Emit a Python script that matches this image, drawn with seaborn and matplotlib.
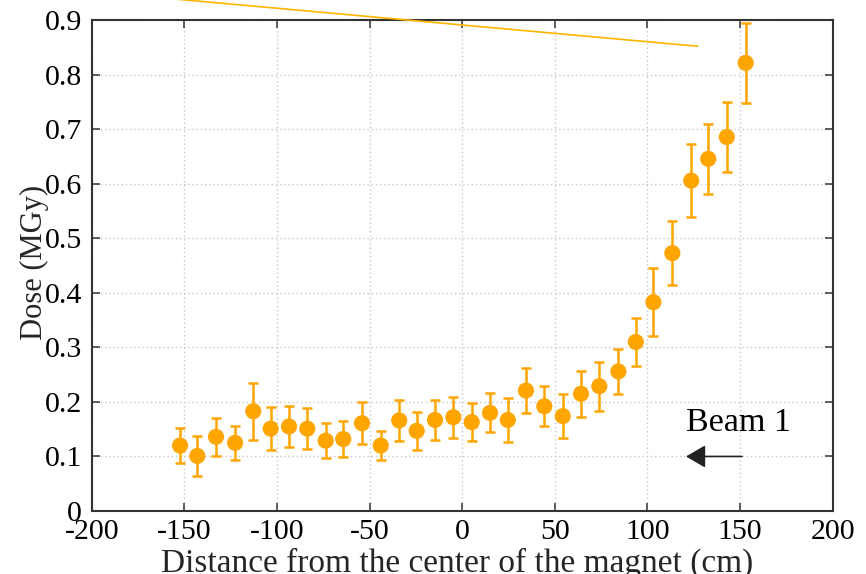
import matplotlib
matplotlib.use("Agg")
import matplotlib.pyplot as plt
import seaborn as sns
import pandas as pd

# ---- data ----
position_cm = [-152.3, -143.0, -132.9, -122.6, -112.8, -103.4, -93.5, -83.6,
               -73.7, -64.2, -54.1, -44.0, -34.0, -24.6, -14.7, -4.8,
               5.1, 15.0, 24.6, 34.4, 44.3, 54.3, 64.1, 74.0,
               84.3, 93.7, 103.2, 113.4, 123.6, 132.8, 142.8, 153.0]
dose_mgy = [0.120, 0.101, 0.136, 0.125, 0.183, 0.151, 0.155, 0.151,
            0.129, 0.132, 0.161, 0.120, 0.166, 0.147, 0.167, 0.172,
            0.163, 0.180, 0.167, 0.221, 0.192, 0.174, 0.215, 0.229,
            0.256, 0.310, 0.383, 0.473, 0.606, 0.646, 0.686, 0.822]
dose_err = [0.032, 0.037, 0.035, 0.031, 0.052, 0.040, 0.038, 0.037,
            0.032, 0.033, 0.038, 0.027, 0.037, 0.035, 0.037, 0.038,
            0.035, 0.036, 0.041, 0.041, 0.037, 0.040, 0.042, 0.045,
            0.041, 0.044, 0.062, 0.059, 0.067, 0.064, 0.064, 0.073]

# stray line at the top of the figure
line_x = [-200.0, 127.1]
line_y = [0.953, 0.8525]

x_ticks = [-200, -150, -100, -50, 0, 50, 100, 150, 200]
x_tick_labels = ["-200", "-150", "-100", "-50", "0", "50", "100", "150", "200"]
y_ticks = [0, 0.1, 0.2, 0.3, 0.4, 0.5, 0.6, 0.7, 0.8, 0.9]
y_tick_labels = ["0", "0.1", "0.2", "0.3", "0.4", "0.5", "0.6", "0.7", "0.8", "0.9"]

beam_text = "Beam 1"
beam_text_pos = (120.8, 0.146)
beam_arrow_head = (120.8, 0.1)
beam_arrow_tail = (151.0, 0.1)

x_label = "Distance from the center of the magnet (cm)"
y_label = "Dose (MGy)"

df = pd.DataFrame({"x": position_cm, "dose": dose_mgy, "err": dose_err})

# ---- styling ----
sns.set_theme(style="white")
plt.rcParams["font.family"] = ["Liberation Serif", "DejaVu Serif"]

fig = plt.figure(figsize=(8.66, 5.74), dpi=100)
ax = fig.add_axes([0.1059, 0.1098, 0.9616 - 0.1059, 0.9645 - 0.1098])

orange = "#FFA500"
frame = "#333333"

ax.errorbar(df["x"], df["dose"], yerr=df["err"], fmt="none",
            ecolor=orange, elinewidth=1.8, capsize=3.8, capthick=1.8, zorder=3)
sns.scatterplot(data=df, x="x", y="dose", ax=ax, color=orange, s=135,
                edgecolor="none", linewidth=0, zorder=4, legend=False)

ax.plot(line_x, line_y, color="#FFB400", lw=1.2, clip_on=False, zorder=5)

ax.set_xlim(-200, 200)
ax.set_ylim(0, 0.9)
ax.set_xticks(x_ticks)
ax.set_xticklabels(x_tick_labels)
ax.set_yticks(y_ticks)
ax.set_yticklabels(y_tick_labels)

ax.grid(True, color="#c8c8c8", linestyle=(0, (1, 2)), linewidth=1.0)
ax.set_axisbelow(True)

for s in ax.spines.values():
    s.set_visible(True)
    s.set_color(frame)
    s.set_linewidth(1.5)

ax.tick_params(axis="both", which="major", direction="in", length=6, width=1.1,
               color=frame, labelcolor="black", labelsize=21.5,
               top=True, right=True, bottom=True, left=True)
ax.tick_params(axis="x", pad=6)
ax.tick_params(axis="y", pad=7)

ax.set_xlabel(x_label, fontsize=24)
ax.set_ylabel(y_label, fontsize=22)
ax.xaxis.set_label_coords(0.493, -0.075)
ax.yaxis.set_label_coords(-0.057, 0.507)

ax.annotate("", xy=beam_arrow_head, xytext=beam_arrow_tail,
            arrowprops=dict(arrowstyle="-|>,head_length=0.6,head_width=0.35",
                            mutation_scale=20, color="#222222", lw=1.2,
                            shrinkA=0, shrinkB=0))
ax.text(beam_text_pos[0], beam_text_pos[1], beam_text, fontsize=24.5,
        ha="left", va="baseline", color="black")

fig.savefig("out.png", dpi=100)
